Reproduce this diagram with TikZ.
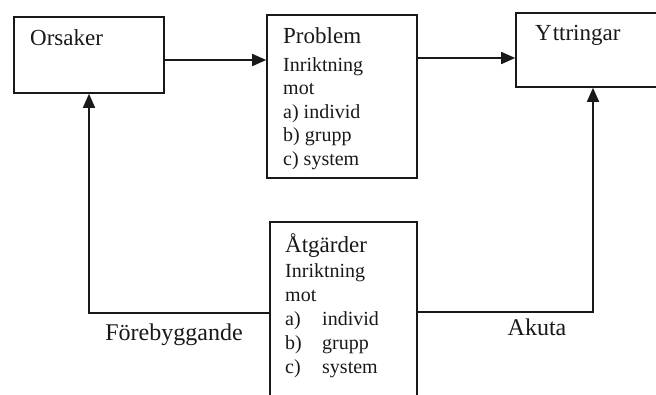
\documentclass[tikz,border=0pt]{standalone}
\usepackage{fontspec}
\setmainfont{Liberation Serif}
\usetikzlibrary{arrows.meta}
\tikzset{
  box/.style={draw=black!90, line width=1.6pt, inner sep=0pt, fill=none},
  arr/.style={draw=black!90, line width=1.6pt, -{Triangle[length=14pt,width=12pt]}},
  link/.style={draw=black!90, line width=1.6pt},
  txt/.style={inner sep=0pt, text=black!90},
}
\newcommand{\headfont}{\fontsize{23}{27}\selectfont}
\newcommand{\bodyfont}{\fontsize{20}{23.5}\selectfont}
\newcommand{\labelfont}{\fontsize{24}{28}\selectfont}
\begin{document}
\begin{tikzpicture}[x=1pt,y=-1pt]
  \useasboundingbox (0,0) rectangle (656,394);
  \fill[white] (0,0) rectangle (656,394);
  \clip (0,0) rectangle (656,394);

  % boxes
  \node[box, minimum width=150pt, minimum height=76pt]  (ors)  at (89,55)    {};
  \node[box, minimum width=150pt, minimum height=163pt] (prob) at (342,96.5) {};
  \node[box, minimum width=164pt, minimum height=74pt]  (ytt)  at (598,50)   {};
  \node[box, minimum width=147pt, minimum height=190pt] (atg)  at (343.5,317) {};

  % box texts
  \node[txt, anchor=base west] (orsT) at (30,45) {\headfont Orsaker};
  \node[txt, anchor=base west] (yttT) at (535,40) {\headfont Y\kern1pt ttringar};
  \node[txt, anchor=base west] (probT) at (283,43) {\bodyfont
    \begin{tabular}[t]{@{}l@{}}
      {\headfont Problem}\\[4.5pt]
      Inriktning\\
      mot\\
      a) individ\\
      b) grupp\\
      c) system
    \end{tabular}};
  \node[txt, anchor=base west] (atgT) at (285,252) {\fontsize{20}{24}\selectfont
    \begin{tabular}[t]{@{}p{37pt}@{}l@{}}
      \multicolumn{2}{@{}l@{}}{\headfont Åtgärder}\\[1pt]
      \multicolumn{2}{@{}l@{}}{Inriktning}\\
      \multicolumn{2}{@{}l@{}}{mot}\\
      a) & individ\\
      b) & grupp\\
      c) & system
    \end{tabular}};

  % connectors
  \coordinate (r1) at ([yshift=-5pt]ors.east);
  \draw[arr] (r1) -- (r1 -| prob.west);
  \coordinate (r2) at ([yshift=-8pt]ytt.west);
  \draw[arr] (r2 -| prob.east) -- (r2);

  \coordinate (fb) at (89,313);
  \draw[arr] (atg.west |- fb) -- (fb) -- (ors.south);
  \coordinate (ak) at (593,312);
  \draw[arr] (atg.east |- ak) -- (ak) -- (ak |- ytt.south);

  % connector labels
  \node[txt, anchor=base] (fbT) at (174,340) {\labelfont Förebyggande};
  \node[txt, anchor=base] (akT) at (537,335) {\labelfont Akuta};
\end{tikzpicture}
\end{document}
